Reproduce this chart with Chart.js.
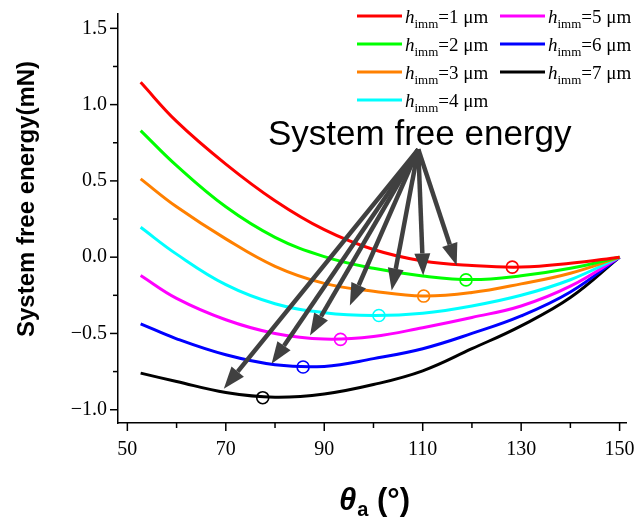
<!DOCTYPE html>
<html>
<head>
<meta charset="utf-8">
<title>System free energy</title>
<script src="https://cdn.jsdelivr.net/npm/chart.js@4/dist/chart.umd.min.js"></script>
<style>
  html, body { margin: 0; padding: 0; background: #fff; }
  #wrap { width: 636px; height: 520px; }
</style>
</head>
<body>
<div id="wrap"><canvas id="energyChart" width="636" height="520"></canvas></div>
<script>
// Advancing angle (deg) where each curve was read
const thetaDeg = [52.7, 60, 70, 80, 90, 100, 110, 120, 130, 140, 150];

// System free energy (mN) per immersion depth
const energyH1 = [1.146, 0.89, 0.61, 0.37, 0.18, 0.05, -0.025, -0.055, -0.065, -0.04, 0];
const energyH2 = [0.83, 0.60, 0.33, 0.13, 0.004, -0.073, -0.123, -0.147, -0.122, -0.073, 0];
const energyH3 = [0.513, 0.33, 0.12, -0.06, -0.172, -0.223, -0.255, -0.232, -0.175, -0.105, 0];
const energyH4 = [0.196, 0.02, -0.18, -0.305, -0.364, -0.382, -0.367, -0.32, -0.25, -0.148, 0];
const energyH5 = [-0.12, -0.27, -0.41, -0.50, -0.537, -0.52, -0.462, -0.395, -0.32, -0.19, 0];
const energyH6 = [-0.437, -0.535, -0.64, -0.705, -0.716, -0.665, -0.60, -0.50, -0.385, -0.228, 0];
const energyH7 = [-0.76, -0.815, -0.887, -0.918, -0.897, -0.835, -0.745, -0.60, -0.45, -0.265, 0];

// Minimum of each curve (open circles)
const minTheta = [128.2, 118.8, 110.2, 101.1, 93.3, 85.7, 77.5];
const minEnergy = [-0.065, -0.149, -0.255, -0.382, -0.539, -0.72, -0.921];

const depthLabels = ['1', '2', '3', '4', '5', '6', '7'];
const xMajorTicks = [50, 70, 90, 110, 130, 150];
const yMajorTicks = [-1.0, -0.5, 0.0, 0.5, 1.0, 1.5];

const seriesColors = ['#ff0000', '#00ff00', '#ff8000', '#00ffff', '#ff00ff', '#0000ff', '#000000'];
const allEnergy = [energyH1, energyH2, energyH3, energyH4, energyH5, energyH6, energyH7];

// Arrows from the label to the curves (data coordinates)
const arrowFrom = { x: 109.1, y: 0.707 };
const arrowTipTheta = [116.9, 110.1, 103.7, 95.2, 87.1, 79.3, 69.6];
const arrowTipEnergy = [-0.054, -0.12, -0.218, -0.316, -0.513, -0.699, -0.862];

const datasets = [];
allEnergy.forEach((vals, i) => {
    datasets.push({
        label: 'h' + depthLabels[i],
        data: thetaDeg.map((t, k) => ({ x: t, y: vals[k] })),
        borderColor: seriesColors[i],
        borderWidth: 3,
        pointRadius: 0,
        fill: false,
        tension: 0.4
    });
});
minTheta.forEach((t, i) => {
    datasets.push({
        label: 'min' + depthLabels[i],
        data: [{ x: t, y: minEnergy[i] }],
        showLine: false,
        pointStyle: 'circle',
        pointRadius: 6,
        pointBorderWidth: 1.6,
        pointBorderColor: seriesColors[i],
        pointBackgroundColor: 'rgba(0,0,0,0)'
    });
});

function fmtTick(v) {
    const s = Math.abs(v).toFixed(1);
    return v < -1e-9 ? '\u2212' + s : s;
}

function drawArrow(ctx, x1, y1, x2, y2) {
    const ang = Math.atan2(y2 - y1, x2 - x1);
    const headLen = 22, headHalf = 8;
    const bx = x2 - headLen * Math.cos(ang);
    const by = y2 - headLen * Math.sin(ang);
    ctx.beginPath();
    ctx.moveTo(x1, y1);
    ctx.lineTo(bx, by);
    ctx.stroke();
    ctx.beginPath();
    ctx.moveTo(x2, y2);
    ctx.lineTo(bx + headHalf * Math.sin(ang), by - headHalf * Math.cos(ang));
    ctx.lineTo(bx - headHalf * Math.sin(ang), by + headHalf * Math.cos(ang));
    ctx.closePath();
    ctx.fill();
}

function drawLegendItem(ctx, x, y, color, n) {
    ctx.strokeStyle = color;
    ctx.lineWidth = 3;
    ctx.beginPath();
    ctx.moveTo(x, y);
    ctx.lineTo(x + 45, y);
    ctx.stroke();
    ctx.fillStyle = '#000';
    ctx.textAlign = 'left';
    ctx.textBaseline = 'alphabetic';
    let tx = x + 48;
    ctx.font = 'italic 19px "Liberation Serif"';
    ctx.fillText('h', tx, y + 6.5);
    tx += ctx.measureText('h').width;
    ctx.font = '13px "Liberation Serif"';
    ctx.fillText('imm', tx, y + 12);
    tx += ctx.measureText('imm').width;
    ctx.font = '19px "Liberation Serif"';
    ctx.fillText('=' + n + ' \u03bcm', tx, y + 6.5);
}

const overlay = {
    id: 'overlay',
    afterDatasetsDraw(chart) {
        const ctx = chart.ctx;
        const xs = chart.scales.x, ys = chart.scales.y;
        const area = chart.chartArea;
        ctx.save();

        // tick marks, outward, major and minor
        ctx.strokeStyle = '#000';
        ctx.lineWidth = 1.5;
        for (let v = 50; v <= 150; v += 10) {
            const px = xs.getPixelForValue(v);
            const len = xMajorTicks.includes(v) ? 8 : 5;
            ctx.beginPath();
            ctx.moveTo(px, area.bottom);
            ctx.lineTo(px, area.bottom + len);
            ctx.stroke();
        }
        for (let v = -1.0; v <= 1.5001; v += 0.25) {
            const py = ys.getPixelForValue(v);
            const major = Math.abs(v * 2 - Math.round(v * 2)) < 1e-6;
            ctx.beginPath();
            ctx.moveTo(area.left, py);
            ctx.lineTo(area.left - (major ? 8 : 5), py);
            ctx.stroke();
        }

        // arrows
        ctx.strokeStyle = '#404040';
        ctx.fillStyle = '#404040';
        ctx.lineWidth = 4.5;
        ctx.lineCap = 'butt';
        const fx = xs.getPixelForValue(arrowFrom.x);
        const fy = ys.getPixelForValue(arrowFrom.y);
        arrowTipTheta.forEach((t, i) => {
            drawArrow(ctx, fx, fy, xs.getPixelForValue(t), ys.getPixelForValue(arrowTipEnergy[i]));
        });

        // annotation label
        ctx.fillStyle = '#000';
        ctx.font = '35px "Liberation Sans"';
        ctx.textAlign = 'left';
        ctx.textBaseline = 'alphabetic';
        ctx.fillText('System free energy', 268, 145);

        // legend (two columns)
        const rows = [16, 44, 72, 100];
        for (let i = 0; i < 7; i++) {
            const col = i < 4 ? 0 : 1;
            const row = i < 4 ? i : i - 4;
            drawLegendItem(ctx, col === 0 ? 357 : 500, rows[row], seriesColors[i], depthLabels[i]);
        }

        // y title
        ctx.save();
        ctx.translate(27, 199);
        ctx.rotate(-Math.PI / 2);
        ctx.font = 'bold 24px "Liberation Sans"';
        ctx.textAlign = 'center';
        ctx.textBaseline = 'middle';
        ctx.fillText('System free energy(mN)', 0, 0);
        ctx.restore();

        // x title: theta_a (°)
        const base = 510;
        ctx.textAlign = 'left';
        ctx.textBaseline = 'alphabetic';
        ctx.font = 'italic bold 31px "Liberation Sans"';
        const wTheta = ctx.measureText('\u03b8').width;
        ctx.font = 'bold 20px "Liberation Sans"';
        const wSub = ctx.measureText('a').width;
        ctx.font = 'bold 31px "Liberation Sans"';
        const wRest = ctx.measureText(' (\u00b0)').width;
        let tx = 374 - (wTheta + wSub + wRest) / 2;
        ctx.font = 'italic bold 31px "Liberation Sans"';
        ctx.fillText('\u03b8', tx, base);
        tx += wTheta + 1;
        ctx.font = 'bold 20px "Liberation Sans"';
        ctx.fillText('a', tx, base + 6);
        tx += wSub;
        ctx.font = 'bold 31px "Liberation Sans"';
        ctx.fillText(' (\u00b0)', tx, base);

        ctx.restore();
    }
};

new Chart(document.getElementById('energyChart'), {
    type: 'line',
    data: { datasets: datasets },
    options: {
        responsive: false,
        animation: false,
        layout: { padding: { top: 14, right: 10, left: 0, bottom: 0 } },
        plugins: {
            legend: { display: false },
            tooltip: { enabled: false }
        },
        scales: {
            x: {
                type: 'linear',
                min: 48.1,
                max: 151.3,
                afterFit: (scale) => {
                    scale.height = 97;
                    scale.paddingLeft = 0;
                    scale.paddingRight = 0;
                },
                grid: { display: false, drawTicks: false },
                border: { display: true, color: '#000', width: 1.5 },
                ticks: {
                    stepSize: 10,
                    includeBounds: false,
                    autoSkip: false,
                    maxRotation: 0,
                    padding: 15,
                    color: '#000',
                    font: { family: 'Liberation Serif', size: 20 },
                    callback: (v) => (xMajorTicks.includes(v) ? String(v) : '')
                }
            },
            y: {
                type: 'linear',
                min: -1.087,
                max: 1.594,
                afterFit: (scale) => {
                    scale.width = 118;
                    scale.paddingTop = 0;
                    scale.paddingBottom = 0;
                },
                grid: { display: false, drawTicks: false },
                border: { display: true, color: '#000', width: 1.5 },
                ticks: {
                    stepSize: 0.25,
                    includeBounds: false,
                    autoSkip: false,
                    padding: 11,
                    color: '#000',
                    font: { family: 'Liberation Serif', size: 20 },
                    callback: (v) => (Math.abs(v * 2 - Math.round(v * 2)) < 1e-6 ? fmtTick(v) : '')
                }
            }
        }
    },
    plugins: [overlay]
});
</script>
</body>
</html>
